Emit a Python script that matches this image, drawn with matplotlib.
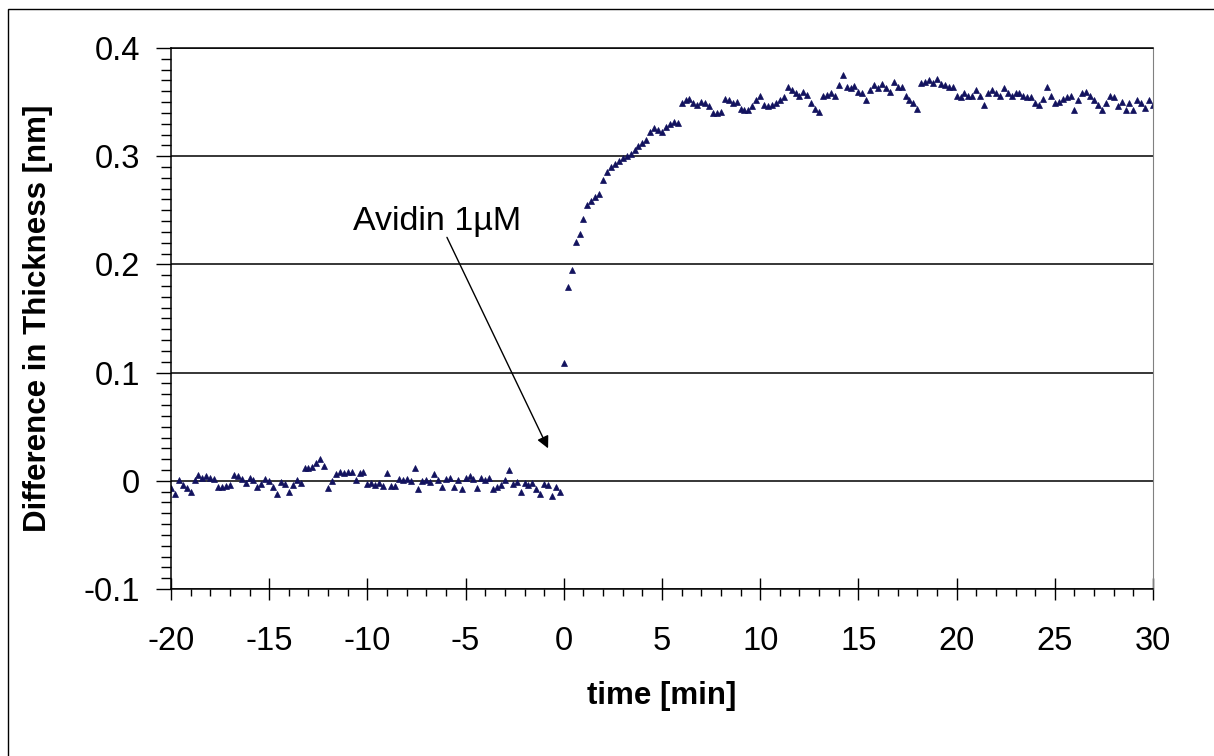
import numpy as np
import matplotlib
matplotlib.use("Agg")
import matplotlib.pyplot as plt
from matplotlib.ticker import MultipleLocator
from matplotlib.patches import Rectangle

plt.rcParams['font.family'] = ['Liberation Sans', 'DejaVu Sans']

# ---- data: film thickness change, sampled every 0.2 min ----
step = 0.2

# baseline before avidin injection (t = -20.0 ... -0.2)
base_vals = [
    -0.007, -0.012, 0.001, -0.004, -0.007, -0.010, 0.001, 0.005, 0.003, 0.004,
    0.003, 0.002, -0.006, -0.006, -0.005, -0.004, 0.005, 0.004, 0.002, -0.002,
    0.003, 0.001, -0.006, -0.003, 0.002, 0.000, -0.006, -0.012, -0.001, -0.003,
    -0.010, -0.004, 0.001, -0.002, 0.012, 0.012, 0.013, 0.016, 0.020, 0.014,
    -0.007, 0.000, 0.006, 0.008, 0.007, 0.008, 0.008, 0.001, 0.007, 0.008,
    -0.003, -0.002, -0.004, -0.002, -0.005, 0.007, -0.005, -0.005, 0.002, 0.001,
    0.002, 0.000, 0.012, -0.008, 0.000, 0.001, -0.001, 0.006, 0.001, -0.006,
    0.002, 0.003, -0.006, 0.001, -0.008, 0.003, 0.004, 0.002, -0.007, 0.003,
    0.001, 0.003, -0.008, -0.006, -0.004, 0.001, 0.010, -0.003, -0.001, -0.010,
    -0.002, -0.004, -0.002, -0.008, -0.012, -0.003, -0.004, -0.014, -0.006, -0.010,
]

# binding phase (t = 0.0 ... 5.8)
rise_vals = [
    0.109, 0.179, 0.195, 0.221, 0.228, 0.242, 0.255, 0.259, 0.262, 0.265,
    0.278, 0.285, 0.290, 0.293, 0.296, 0.298, 0.300, 0.302, 0.306, 0.309,
    0.312, 0.315, 0.322, 0.326, 0.324, 0.322, 0.327, 0.330, 0.332, 0.331,
]

# plateau (t = 6.0 ... 30.0)
plateau_vals = [
    0.349, 0.352, 0.353, 0.349, 0.347, 0.350, 0.349, 0.346, 0.340, 0.340,
    0.341, 0.353, 0.352, 0.349, 0.350, 0.344, 0.343, 0.343, 0.346, 0.352,
    0.356, 0.347, 0.346, 0.347, 0.349, 0.352, 0.355, 0.364, 0.361, 0.358,
    0.356, 0.359, 0.357, 0.349, 0.344, 0.341, 0.356, 0.357, 0.358, 0.356,
    0.366, 0.375, 0.364, 0.363, 0.365, 0.359, 0.358, 0.352, 0.361, 0.366,
    0.363, 0.367, 0.363, 0.359, 0.369, 0.364, 0.364, 0.356, 0.352, 0.349,
    0.344, 0.368, 0.369, 0.370, 0.368, 0.371, 0.367, 0.366, 0.364, 0.364,
    0.356, 0.355, 0.358, 0.356, 0.356, 0.361, 0.356, 0.347, 0.358, 0.361,
    0.358, 0.356, 0.363, 0.358, 0.356, 0.358, 0.358, 0.356, 0.355, 0.355,
    0.349, 0.347, 0.353, 0.364, 0.356, 0.349, 0.350, 0.353, 0.355, 0.356,
    0.343, 0.352, 0.358, 0.359, 0.356, 0.352, 0.347, 0.343, 0.349, 0.356,
    0.355, 0.346, 0.350, 0.343, 0.349, 0.343, 0.352, 0.349, 0.345, 0.352,
    0.347,
]

t_base = -20 + step * np.arange(len(base_vals))
t_rise = step * np.arange(len(rise_vals))
t_plat = 6 + step * np.arange(len(plateau_vals))

time_min = np.concatenate([t_base, t_rise, t_plat])
thickness = np.concatenate([base_vals, rise_vals, plateau_vals])

# ---- figure ----
fig = plt.figure(figsize=(12.14, 7.56), dpi=100)
ax = fig.add_axes([171/1214, 1 - 589/756, (1153 - 171)/1214, (589 - 48)/756])

# outer frame of the chart area (only left/top edges fall inside the image)
fig.patches.append(Rectangle((8/1214, -0.05), 1.2, 1 - 9/756 + 0.05,
                             transform=fig.transFigure, fill=False,
                             edgecolor='black', lw=1.0))

ax.plot(time_min, thickness, linestyle='none', marker='^', markersize=4.8,
        color='#12125e', markeredgewidth=0.5)

ax.set_xlim(-20, 30)
ax.set_ylim(-0.1, 0.4)
ax.xaxis.set_minor_locator(MultipleLocator(1))
ax.yaxis.set_minor_locator(MultipleLocator(0.01))
ax.set_yticks([-0.1, 0, 0.1, 0.2, 0.3, 0.4])
ax.set_yticklabels(['-0.1', '0', '0.1', '0.2', '0.3', '0.4'])
ax.set_xticks(np.arange(-20, 31, 5))
ax.set_xticklabels([str(v) for v in range(-20, 31, 5)])

ax.grid(axis='y', which='major', color='black', lw=1.1)
ax.set_axisbelow(True)

ax.tick_params(axis='x', which='major', direction='inout', length=16, width=1,
               labelsize=23.5, pad=19)
ax.tick_params(axis='x', which='minor', direction='out', length=5, width=1)
ax.tick_params(axis='y', which='major', direction='out', length=10.5, width=1,
               labelsize=23.5, pad=12)
ax.tick_params(axis='y', which='minor', direction='out', length=7, width=1)

for s in ['left', 'bottom', 'top']:
    ax.spines[s].set_color('black')
    ax.spines[s].set_linewidth(1.1)
ax.spines['right'].set_color('#808080')

ax.set_xlabel('time [min]', fontsize=22.5, fontweight='bold', labelpad=17)
ax.set_ylabel('Difference in Thickness [nm]', fontsize=22.5, fontweight='bold',
              labelpad=22)

# injection marker
ax.text(-6.46, 0.232, 'Avidin 1µM', fontsize=24.5, ha='center', va='baseline')
ax.annotate('', xy=(-0.8, 0.030), xytext=(-5.95, 0.225),
            arrowprops=dict(arrowstyle='-|>', color='black', lw=1.0,
                            mutation_scale=18, shrinkA=0, shrinkB=0))

fig.savefig('out.png', dpi=100)
